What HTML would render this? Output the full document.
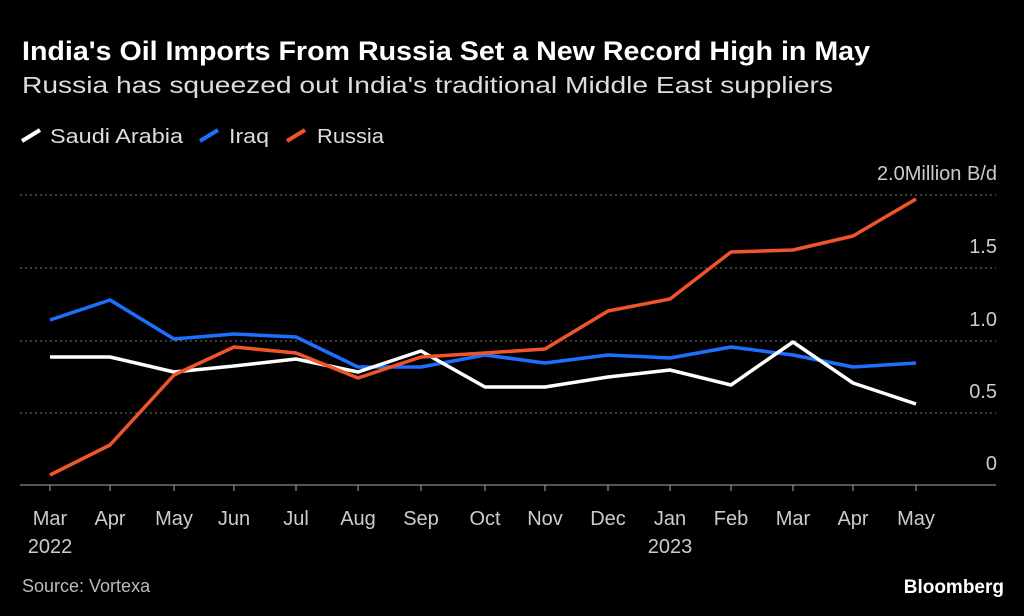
<!DOCTYPE html>
<html><head><meta charset="utf-8"><style>
html,body{margin:0;padding:0;background:#000;}
body{width:1024px;height:616px;overflow:hidden;position:relative;font-family:"Liberation Sans",sans-serif;color:#fff;}
</style></head><body>
<svg width="1024" height="616" style="position:absolute;left:0;top:0" font-family="Liberation Sans, sans-serif">
<text x="22" y="60" font-size="27" font-weight="bold" fill="#fff" textLength="848" lengthAdjust="spacingAndGlyphs">India's Oil Imports From Russia Set a New Record High in May</text>
<text x="22" y="93" font-size="23" fill="#ddd" textLength="811" lengthAdjust="spacingAndGlyphs">Russia has squeezed out India's traditional Middle East suppliers</text>
<g font-size="20" fill="#ddd">
<line x1="22" y1="141" x2="40" y2="130" stroke="#fff" stroke-width="4"/><text x="50" y="143" textLength="133" lengthAdjust="spacingAndGlyphs">Saudi Arabia</text>
<line x1="200" y1="141" x2="218" y2="130" stroke="#1f6fff" stroke-width="4"/><text x="229" y="143" textLength="40" lengthAdjust="spacingAndGlyphs">Iraq</text>
<line x1="287" y1="141" x2="305" y2="130" stroke="#f0542a" stroke-width="4"/><text x="317" y="143" textLength="67" lengthAdjust="spacingAndGlyphs">Russia</text>
</g>
<g stroke="#777" stroke-dasharray="2,3" stroke-width="1">
<line x1="20" y1="195" x2="996" y2="195"/><line x1="20" y1="268" x2="996" y2="268"/>
<line x1="20" y1="341" x2="996" y2="341"/><line x1="20" y1="413" x2="996" y2="413"/>
</g>
<line x1="20" y1="485" x2="996" y2="485" stroke="#aaa" stroke-width="1"/>
<g font-size="20" fill="#ccc" text-anchor="end">
<text x="997" y="180">2.0Million B/d</text><text x="997" y="253">1.5</text>
<text x="997" y="326">1.0</text><text x="997" y="398">0.5</text><text x="997" y="470">0</text>
</g>
<g stroke="#aaa"><line x1="50" y1="485" x2="50" y2="491"/><line x1="110" y1="485" x2="110" y2="491"/><line x1="174" y1="485" x2="174" y2="491"/><line x1="234" y1="485" x2="234" y2="491"/><line x1="296" y1="485" x2="296" y2="491"/><line x1="358" y1="485" x2="358" y2="491"/><line x1="421" y1="485" x2="421" y2="491"/><line x1="485" y1="485" x2="485" y2="491"/><line x1="545" y1="485" x2="545" y2="491"/><line x1="608" y1="485" x2="608" y2="491"/><line x1="670" y1="485" x2="670" y2="491"/><line x1="731" y1="485" x2="731" y2="491"/><line x1="793" y1="485" x2="793" y2="491"/><line x1="853" y1="485" x2="853" y2="491"/><line x1="916" y1="485" x2="916" y2="491"/></g>
<g font-size="20" fill="#ccc" text-anchor="middle">
<text x="50" y="525">Mar</text><text x="50" y="553">2022</text><text x="110" y="525">Apr</text><text x="174" y="525">May</text><text x="234" y="525">Jun</text><text x="296" y="525">Jul</text><text x="358" y="525">Aug</text><text x="421" y="525">Sep</text><text x="485" y="525">Oct</text><text x="545" y="525">Nov</text><text x="608" y="525">Dec</text><text x="670" y="525">Jan</text><text x="670" y="553">2023</text><text x="731" y="525">Feb</text><text x="793" y="525">Mar</text><text x="853" y="525">Apr</text><text x="916" y="525">May</text>
</g>
<g fill="none" stroke-width="3.5" stroke-linejoin="round">
<polyline stroke="#1f6fff" points="50,320 110,300 174,339 234,334 296,337 358,367 421,367 485,355 545,363 608,355 670,358 731,347 793,355 853,367 916,363"/>
<polyline stroke="#fff" points="50,357 110,357 174,372 234,366 296,359 358,372 421,351 485,387 545,387 608,377 670,370 731,385 793,342 853,383 916,404"/>
<polyline stroke="#f0542a" points="50,475 110,445 174,375 234,347 296,353 358,378 421,357 485,353 545,349 608,311 670,299 731,252 793,250 853,236 916,199"/>
</g>
<text x="22" y="592" font-size="18" fill="#bbb">Source: Vortexa</text>
<text x="1004" y="593" font-size="19" font-weight="bold" fill="#fff" text-anchor="end">Bloomberg</text>
</svg>
</body></html>
